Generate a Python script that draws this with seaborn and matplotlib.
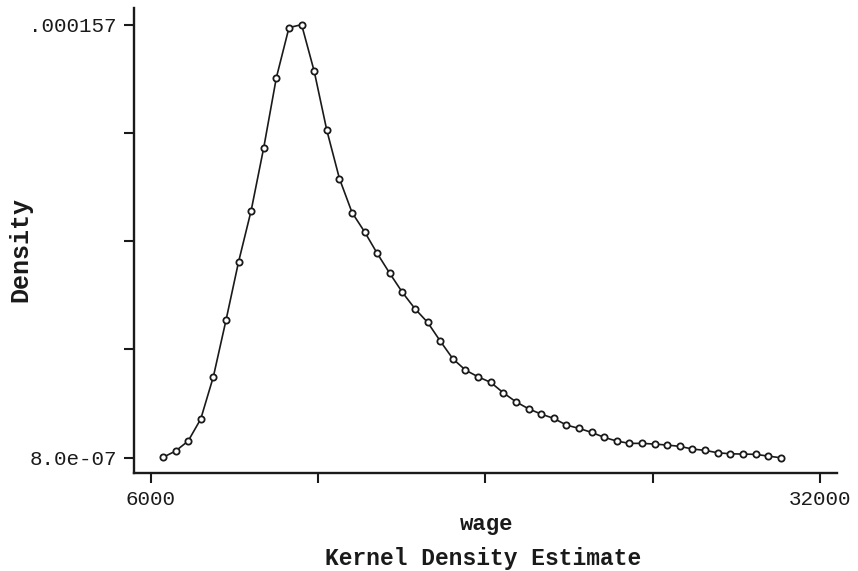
import numpy as np
import pandas as pd
import seaborn as sns
import matplotlib
matplotlib.use("Agg")
import matplotlib.pyplot as plt

# kernel density estimate of wage, 50 evaluation points
wage = [6474, 6964, 7454, 7943, 8433, 8923, 9413, 9903, 10392, 10882,
        11372, 11862, 12352, 12841, 13331, 13821, 14311, 14801, 15290, 15780,
        16270, 16760, 17250, 17739, 18229, 18719, 19209, 19699, 20188, 20678,
        21168, 21658, 22148, 22637, 23127, 23617, 24107, 24597, 25086, 25576,
        26066, 26556, 27046, 27535, 28025, 28515, 29005, 29495, 29984, 30474]
density = [0.94e-6, 3.21e-6, 6.82e-6, 14.75e-6, 29.99e-6, 50.32e-6, 71.44e-6,
           89.97e-6, 112.67e-6, 137.90e-6, 155.92e-6, 157.0e-6, 140.17e-6,
           118.91e-6, 101.50e-6, 89.24e-6, 82.25e-6, 74.47e-6, 67.26e-6,
           60.41e-6, 54.50e-6, 49.60e-6, 42.86e-6, 36.48e-6, 32.41e-6,
           29.99e-6, 27.98e-6, 24.23e-6, 20.98e-6, 18.46e-6, 16.55e-6,
           15.00e-6, 12.59e-6, 11.40e-6, 9.95e-6, 8.15e-6, 6.82e-6, 5.99e-6,
           5.99e-6, 5.74e-6, 5.38e-6, 4.91e-6, 3.94e-6, 3.47e-6, 2.60e-6,
           2.24e-6, 2.13e-6, 2.03e-6, 1.41e-6, 0.80e-6]

x_ticks = [6000, 12500, 19000, 25500, 32000]
x_ticklabels = ["6000", "", "", "", "32000"]
y_min, y_max = 8.0e-07, 0.000157
y_ticklabels = ["8.0e-07", "", "", "", ".000157"]

sns.set_style("ticks")
plt.rcParams["font.family"] = ["Liberation Mono", "DejaVu Sans Mono"]

df = pd.DataFrame({"wage": wage, "Density": density})

fig = plt.figure(figsize=(8.58, 5.71), dpi=100)
ax = fig.add_axes([0.1562, 0.1716, 0.8193, 0.8144])

sns.lineplot(data=df, x="wage", y="Density", ax=ax, color="#1a1a1a",
             linewidth=1.2, marker="o", markersize=4.5,
             markerfacecolor="white", markeredgecolor="#1a1a1a",
             markeredgewidth=1.3)

ax.set_xlim(5352, 32660)
ax.set_ylim(-4.7e-6, 0.000163)
ax.set_xticks(x_ticks)
ax.set_xticklabels(x_ticklabels)
ax.set_yticks(np.linspace(y_min, y_max, 5))
ax.set_yticklabels(y_ticklabels)

for side in ["top", "right"]:
    ax.spines[side].set_visible(False)
for side in ["left", "bottom"]:
    ax.spines[side].set_linewidth(1.7)
    ax.spines[side].set_color("#1a1a1a")
ax.tick_params(axis="both", length=7.5, width=1.5, color="#1a1a1a",
               labelsize=15, labelcolor="#1a1a1a", pad=5)

ax.set_xlabel("wage", fontsize=16, fontweight="bold", color="#1a1a1a")
ax.xaxis.label.set_va("baseline")
ax.xaxis.set_label_coords(0.501, -0.1226)
ax.set_ylabel("Density", fontsize=18, fontweight="bold", color="#1a1a1a")
ax.yaxis.label.set_va("center")
ax.yaxis.set_label_coords(-0.1622, 0.4817)
fig.text(0.5635, 0.0105, "Kernel Density Estimate", ha="center",
         va="baseline", fontsize=16.5, fontweight="bold", color="#1a1a1a")

fig.savefig("out.png", dpi=100)
